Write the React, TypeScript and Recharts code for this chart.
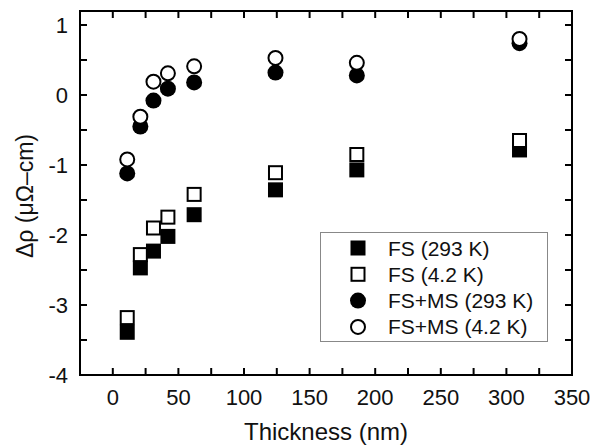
import { ScatterChart, Scatter, XAxis, YAxis } from "recharts";

// thickness of each sample (nm)
const thickness = [11, 21, 31, 42, 62, 124, 186, 310];

// change in resistivity (µΩ-cm)
const fs293 = [-3.39, -2.47, -2.23, -2.02, -1.71, -1.355, -1.07, -0.785];
const fs42 = [-3.18, -2.28, -1.9, -1.745, -1.42, -1.11, -0.85, -0.65];
const fsms293 = [-1.12, -0.45, -0.08, 0.09, 0.18, 0.32, 0.28, 0.74];
const fsms42 = [-0.92, -0.31, 0.19, 0.31, 0.41, 0.53, 0.46, 0.8];

const xTicks = [0, 25, 50, 75, 100, 125, 150, 175, 200, 225, 250, 275, 300, 325, 350];
const yTicks = [-4, -3.5, -3, -2.5, -2, -1.5, -1, -0.5, 0, 0.5, 1];
const X_DOMAIN = [-25, 350];
const Y_DOMAIN = [-4, 1.2];

const seriesNames = ["FS (293 K)", "FS (4.2 K)", "FS+MS (293 K)", "FS+MS (4.2 K)"];

const toPoints = (vals: number[]) => vals.map((v, i) => ({ x: thickness[i], y: v }));

const W = 606;
const H = 447;
const MARGIN = { top: 11, right: 34, bottom: 0, left: 0 };
const Y_AXIS_W = 80;
const X_AXIS_H = 72;
const PLOT_LEFT = MARGIN.left + Y_AXIS_W;
const PLOT_RIGHT = W - MARGIN.right;
const PLOT_TOP = MARGIN.top;
const PLOT_BOTTOM = H - X_AXIS_H;

const FONT = "'Liberation Sans', Arial, sans-serif";
const INK = "#000";
const TEXT = "#111";
const TICK_LEN = 7;

// same linear mapping as the chart's axes, used only for the frame ticks
const sx = (v: number) =>
  PLOT_LEFT + ((v - X_DOMAIN[0]) / (X_DOMAIN[1] - X_DOMAIN[0])) * (PLOT_RIGHT - PLOT_LEFT);
const sy = (v: number) =>
  PLOT_BOTTOM - ((v - Y_DOMAIN[0]) / (Y_DOMAIN[1] - Y_DOMAIN[0])) * (PLOT_BOTTOM - PLOT_TOP);

const Marker = ({ kind, cx, cy }: { kind: number; cx: number; cy: number }) => {
  if (kind === 0) return <rect x={cx - 7.5} y={cy - 7.5} width={15} height={15} fill="#000" />;
  if (kind === 1)
    return <rect x={cx - 6.5} y={cy - 6.5} width={13} height={13} fill="#fff" stroke="#000" strokeWidth={2} />;
  if (kind === 2) return <circle cx={cx} cy={cy} r={8} fill="#000" />;
  return <circle cx={cx} cy={cy} r={7} fill="#fff" stroke="#000" strokeWidth={2} />;
};

const BottomTick = (props: any) => {
  const { x, y, payload } = props;
  const v = payload.value;
  if (v % 50 !== 0) return <g />;
  return (
    <text x={x} y={y + 28} textAnchor="middle" fontSize={22} fontFamily={FONT} fill={TEXT}>
      {v}
    </text>
  );
};

const LeftTick = (props: any) => {
  const { x, y, payload } = props;
  const v = payload.value;
  if (!Number.isInteger(v)) return <g />;
  return (
    <text x={x - 10} y={y + 8} textAnchor="end" fontSize={22} fontFamily={FONT} fill={TEXT}>
      {v}
    </text>
  );
};

const Overlay = () => (
  <svg width={W} height={H} style={{ position: "absolute", left: 0, top: 0, pointerEvents: "none" }}>
    <rect
      x={PLOT_LEFT}
      y={PLOT_TOP}
      width={PLOT_RIGHT - PLOT_LEFT}
      height={PLOT_BOTTOM - PLOT_TOP}
      fill="none"
      stroke={INK}
      strokeWidth={2}
    />
    {xTicks.map((t) => (
      <g key={`x${t}`}>
        <line x1={sx(t)} x2={sx(t)} y1={PLOT_BOTTOM} y2={PLOT_BOTTOM - TICK_LEN} stroke={INK} strokeWidth={2} />
        <line x1={sx(t)} x2={sx(t)} y1={PLOT_TOP} y2={PLOT_TOP + TICK_LEN} stroke={INK} strokeWidth={2} />
      </g>
    ))}
    {yTicks.map((t) => (
      <g key={`y${t}`}>
        <line x1={PLOT_LEFT} x2={PLOT_LEFT + TICK_LEN} y1={sy(t)} y2={sy(t)} stroke={INK} strokeWidth={2} />
        <line x1={PLOT_RIGHT} x2={PLOT_RIGHT - TICK_LEN} y1={sy(t)} y2={sy(t)} stroke={INK} strokeWidth={2} />
      </g>
    ))}
    <text x={(PLOT_LEFT + PLOT_RIGHT) / 2} y={440} textAnchor="middle" fontSize={24} fontFamily={FONT} fill={TEXT}>
      Thickness (nm)
    </text>
    <text
      x={25}
      y={196}
      transform="rotate(-90, 25, 196)"
      textAnchor="middle"
      dominantBaseline="central"
      fontSize={23}
      fontFamily={FONT}
      fill={TEXT}
    >
      Δρ (μΩ–cm)
    </text>
    <g transform="translate(320, 232)">
      <rect x={0.5} y={0.5} width={227} height={109} fill="#fff" stroke="#888" strokeWidth={1} />
      {seriesNames.map((name, i) => {
        const cy = 16 + i * 26.3;
        return (
          <g key={name}>
            <Marker kind={i} cx={38} cy={cy} />
            <text x={68} y={cy + 7.5} fontSize={21} fontFamily={FONT} fill={TEXT}>
              {name}
            </text>
          </g>
        );
      })}
    </g>
  </svg>
);

const App = () => {
  const sets = [fs293, fs42, fsms293, fsms42];
  return (
    <div style={{ position: "absolute", left: 0, top: 0, width: W, height: H }}>
      <ScatterChart width={W} height={H} margin={MARGIN}>
        <XAxis
          type="number"
          dataKey="x"
          domain={X_DOMAIN}
          ticks={xTicks}
          interval={0}
          height={X_AXIS_H}
          tickSize={0}
          tickLine={false}
          axisLine={false}
          tick={<BottomTick />}
        />
        <YAxis
          type="number"
          dataKey="y"
          domain={Y_DOMAIN}
          ticks={yTicks}
          interval={0}
          width={Y_AXIS_W}
          tickSize={0}
          tickLine={false}
          axisLine={false}
          tick={<LeftTick />}
        />
        {sets.map((vals, i) => (
          <Scatter
            key={seriesNames[i]}
            name={seriesNames[i]}
            data={toPoints(vals)}
            isAnimationActive={false}
            shape={(p: any) => <Marker kind={i} cx={p.cx} cy={p.cy} />}
          />
        ))}
      </ScatterChart>
      <Overlay />
    </div>
  );
};

export default App;
